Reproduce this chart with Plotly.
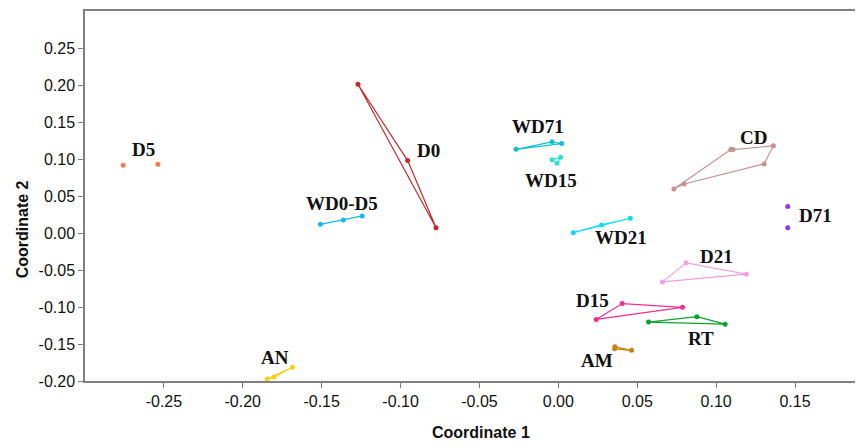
import plotly.graph_objects as go

groups = ["D5", "WD0-D5", "D0", "WD71", "WD15", "WD21", "CD", "D71", "D21", "D15", "RT", "AM", "AN"]

x_d5 = [-0.2758, -0.2538]
y_d5 = [0.0920, 0.0935]
x_wd0d5 = [-0.1508, -0.1363, -0.1243]
y_wd0d5 = [0.0122, 0.0181, 0.0235]
x_d0 = [-0.1270, -0.0955, -0.0775]
y_d0 = [0.2018, 0.0984, 0.0076]
x_wd71 = [-0.0268, -0.0040, 0.0021]
y_wd71 = [0.1137, 0.1238, 0.1215]
x_wd15 = [-0.0040, 0.0015, -0.0008]
y_wd15 = [0.0997, 0.1029, 0.0947]
x_wd21 = [0.0095, 0.0274, 0.0456]
y_wd21 = [0.0008, 0.0113, 0.0204]
x_cd = [0.0732, 0.1093, 0.1108, 0.1363, 0.1304, 0.0797]
y_cd = [0.0599, 0.1133, 0.1133, 0.1184, 0.0939, 0.0667]
x_d71 = [0.1454, 0.1454]
y_d71 = [0.0362, 0.0076]
x_d21 = [0.0660, 0.0810, 0.1192]
y_d21 = [-0.0658, -0.0400, -0.0554]
x_d15 = [0.0240, 0.0405, 0.0787]
y_d15 = [-0.1166, -0.0952, -0.1003]
x_rt = [0.0572, 0.0878, 0.1057]
y_rt = [-0.1202, -0.1129, -0.1230]
x_am = [0.0359, 0.0357, 0.0464]
y_am = [-0.1537, -0.1565, -0.1584]
x_an = [-0.1846, -0.1802, -0.1686]
y_an = [-0.1973, -0.1946, -0.1815]

xs = [x_d5, x_wd0d5, x_d0, x_wd71, x_wd15, x_wd21, x_cd, x_d71, x_d21, x_d15, x_rt, x_am, x_an]
ys = [y_d5, y_wd0d5, y_d0, y_wd71, y_wd15, y_wd21, y_cd, y_d71, y_d21, y_d15, y_rt, y_am, y_an]

x_ticks = [-0.25, -0.2, -0.15, -0.1, -0.05, 0, 0.05, 0.1, 0.15]
x_ticktext = ["-0.25", "-0.20", "-0.15", "-0.10", "-0.05", "0.00", "0.05", "0.10", "0.15"]
y_ticks = [-0.2, -0.15, -0.1, -0.05, 0, 0.05, 0.1, 0.15, 0.2, 0.25]
y_ticktext = ["-0.20", "-0.15", "-0.10", "-0.05", "0.00", "0.05", "0.10", "0.15", "0.20", "0.25"]

colors = ["#f47a4a", "#1ab8f0", "#c8282a", "#16c0d0", "#30e0d0", "#10dcf0", "#c89090",
          "#9b30f0", "#f0a0e0", "#f0308c", "#10a030", "#c88410", "#f8cc10"]
hull = [False, True, True, True, True, True, True, False, True, True, True, True, True]

label_x = [-0.2631, -0.1369, -0.0823, -0.0131, -0.0049, 0.0397, 0.1236, 0.1631, 0.1004, 0.0217, 0.0903, 0.0243, -0.1793]
label_y = [0.1129, 0.0403, 0.1118, 0.1446, 0.0712, -0.0060, 0.1293, 0.0235, -0.0309, -0.0912, -0.1429, -0.1728, -0.1683]

fig = go.Figure()
for name, gx, gy, c, h in zip(groups, xs, ys, colors, hull):
    if h:
        px = list(gx) + [gx[0]]
        py = list(gy) + [gy[0]]
        fig.add_trace(go.Scatter(x=px, y=py, mode="lines", line=dict(color=c, width=1.2),
                                 showlegend=False, hoverinfo="skip"))
    fig.add_trace(go.Scatter(x=gx, y=gy, mode="markers", marker=dict(color=c, size=5),
                             name=name, showlegend=False))

for name, lx, ly in zip(groups, label_x, label_y):
    fig.add_annotation(x=lx, y=ly, text=name, showarrow=False, xanchor="center", yanchor="middle",
                       font=dict(family="Liberation Serif", size=19, color="#111111", weight="bold"))

# axis titles
fig.add_annotation(xref="paper", yref="paper", x=0.509, y=-0.138, yanchor="middle", xanchor="center",
                   text="<b>Coordinate 1</b>", showarrow=False,
                   font=dict(family="Liberation Sans", size=16, color="#111111"))
fig.add_annotation(xref="paper", yref="paper", x=-0.081, y=0.41, yanchor="middle", xanchor="center",
                   text="<b>Coordinate 2</b>", showarrow=False, textangle=-90,
                   font=dict(family="Liberation Sans", size=16, color="#111111"))

# page body has an 8px default margin, so margins are offset accordingly
fig.update_layout(
    width=863, height=448,
    margin=dict(l=77, r=8, t=3, b=75, autoexpand=False),
    plot_bgcolor="white", paper_bgcolor="white",
    font=dict(family="Liberation Sans", color="#111111"),
    showlegend=False,
)
fig.update_xaxes(range=[-0.300, 0.1931], tickvals=x_ticks, ticktext=x_ticktext,
                 ticks="outside", ticklen=5, tickcolor="#808080", tickwidth=1,
                 showline=True, linecolor="#808080", linewidth=1.5, mirror=True,
                 showgrid=False, zeroline=False, tickfont=dict(size=16), automargin=False)
fig.update_yaxes(range=[-0.200, 0.301], tickvals=y_ticks, ticktext=y_ticktext,
                 ticks="outside", ticklen=5, tickcolor="#808080", tickwidth=1,
                 showline=True, linecolor="#808080", linewidth=1.5, mirror=False,
                 showgrid=False, zeroline=False, tickfont=dict(size=16), automargin=False)

fig.write_html("out.html")
